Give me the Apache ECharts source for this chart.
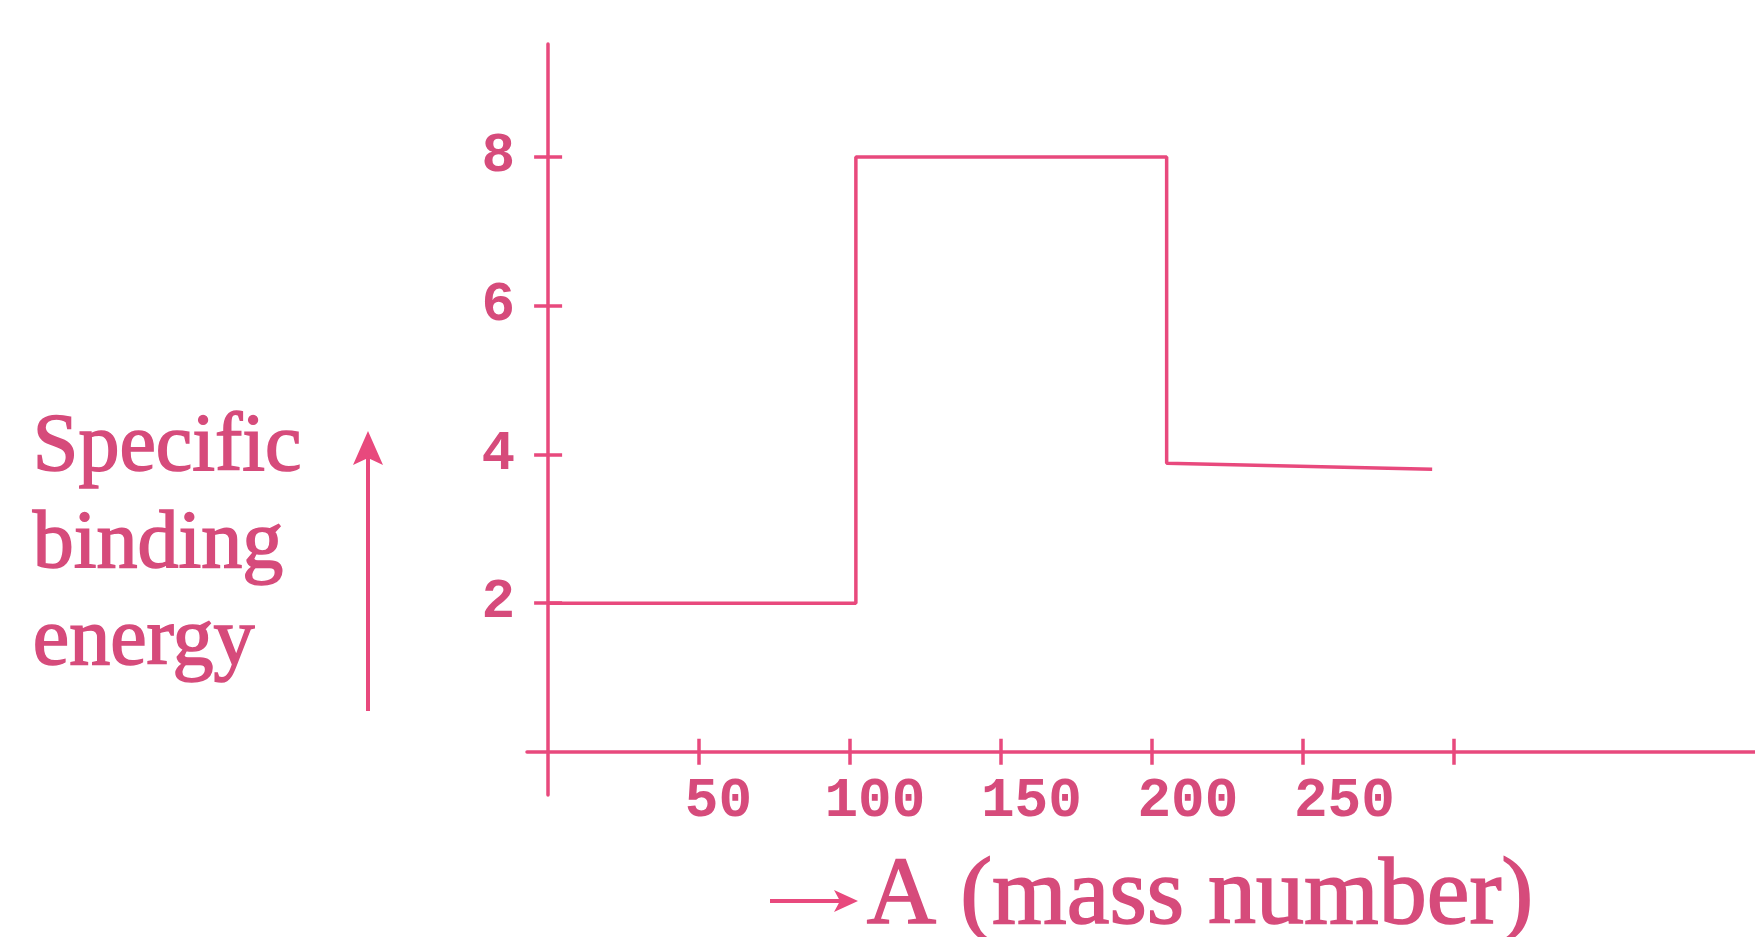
<!DOCTYPE html>
<html>
<head>
<meta charset="utf-8">
<script src="https://cdn.jsdelivr.net/npm/echarts@6/dist/echarts.min.js"></script>
<style>
html,body{margin:0;padding:0;background:#ffffff;}
#chart{width:1755px;height:937px;}
</style>
</head>
<body>
<div id="chart"></div>
<script>
// ---- data ----
const xTickValues = [50, 100, 150, 200, 250, 300];
const xLabelValues = [50, 100, 150, 200, 250];
const yTickValues = [2, 4, 6, 8];
const yLabelValues = [2, 4, 6, 8];
const stepEdges = [0, 102, 205, 293];      // mass number A where each level starts/ends
const levelStart = [2, 8, 3.88];            // specific binding energy at start of each level
const levelEnd = [2, 8, 3.80];              // specific binding energy at end of each level
const yNameLines = ['Specific', 'binding', 'energy'];
const xName = 'A (mass number)';

// ---- build the step polyline from the level arrays ----
const curve = [];
for (let i = 0; i < levelStart.length; i++) {
  curve.push([stepEdges[i], levelStart[i]]);
  curve.push([stepEdges[i + 1], levelEnd[i]]);
}

const LINE = '#e8497d';
const TEXT = '#d64b7b';
const tickFont = { color: TEXT, fontFamily: 'Liberation Mono', fontWeight: 'bold', fontSize: 56 };

const chart = echarts.init(document.getElementById('chart'), null, { renderer: 'canvas' });

const option = {
  animation: false,
  backgroundColor: '#ffffff',
  grid: { left: 527, right: 0, top: 44, bottom: 142, containLabel: false, outerBoundsMode: 'none' },
  xAxis: [
    { // main axis: line + downward ticks
      type: 'value', min: -7, max: 400, position: 'bottom',
      axisLine: { show: true, onZero: true, onZeroAxisIndex: 0, lineStyle: { color: LINE, width: 3.5 } },
      axisTick: { show: true, inside: false, length: 13, customValues: xTickValues, lineStyle: { color: LINE, width: 3.5 } },
      axisLabel: { show: false },
      splitLine: { show: false }
    },
    { // same scale: upward ticks
      type: 'value', min: -7, max: 400, position: 'bottom',
      axisLine: { show: false, onZero: true, onZeroAxisIndex: 0 },
      axisTick: { show: true, inside: true, length: 13, customValues: xTickValues, lineStyle: { color: LINE, width: 3.5 } },
      axisLabel: { show: false },
      splitLine: { show: false }
    },
    { // label axis (hand-lettered labels sit a little right of their ticks)
      type: 'value', min: -11.15, max: 381.2, position: 'bottom',
      axisLine: { show: false, onZero: true, onZeroAxisIndex: 0 },
      axisTick: { show: false },
      axisLabel: Object.assign({ show: true, margin: -21, customValues: xLabelValues }, tickFont),
      splitLine: { show: false }
    }
  ],
  yAxis: [
    {
      type: 'value', min: -0.58, max: 9.52, position: 'left',
      axisLine: { show: true, onZero: true, onZeroAxisIndex: 0, lineStyle: { color: LINE, width: 3.5 } },
      axisTick: { show: true, inside: false, length: 14, customValues: yTickValues, lineStyle: { color: LINE, width: 3.5 } },
      axisLabel: Object.assign({ show: true, margin: 12, customValues: yLabelValues }, tickFont),
      splitLine: { show: false }
    },
    {
      type: 'value', min: -0.58, max: 9.52, position: 'left',
      axisLine: { show: false, onZero: true, onZeroAxisIndex: 0 },
      axisTick: { show: true, inside: true, length: 14, customValues: yTickValues, lineStyle: { color: LINE, width: 3.5 } },
      axisLabel: { show: false },
      splitLine: { show: false }
    }
  ],
  series: [{
    type: 'line',
    xAxisIndex: 0, yAxisIndex: 0,
    data: curve,
    symbol: 'none',
    silent: true,
    lineStyle: { color: LINE, width: 3.5 }
  }],
  graphic: [
    // y-axis name
    { type: 'text', left: 32, top: 400, silent: true,
      style: { text: yNameLines.join('\n'), fill: TEXT, stroke: TEXT, lineWidth: 1.6,
               font: '82px "Liberation Serif"', lineHeight: 97 } },
    // y-axis arrow
    { type: 'line', silent: true, shape: { x1: 368, y1: 711, x2: 368, y2: 458 }, style: { stroke: LINE, lineWidth: 4 } },
    { type: 'polygon', silent: true, shape: { points: [[368, 431], [353, 465], [368, 458], [383, 465]] }, style: { fill: LINE } },
    // x-axis name
    { type: 'line', silent: true, shape: { x1: 770, y1: 901, x2: 842, y2: 901 }, style: { stroke: LINE, lineWidth: 4 } },
    { type: 'polygon', silent: true, shape: { points: [[858, 901], [834, 890], [840, 901], [834, 912]] }, style: { fill: LINE } },
    { type: 'text', left: 866, top: 849, silent: true,
      style: { text: xName, fill: TEXT, stroke: TEXT, lineWidth: 1.6, font: '96px "Liberation Serif"' } }
  ]
};
chart.setOption(option);
</script>
</body>
</html>
